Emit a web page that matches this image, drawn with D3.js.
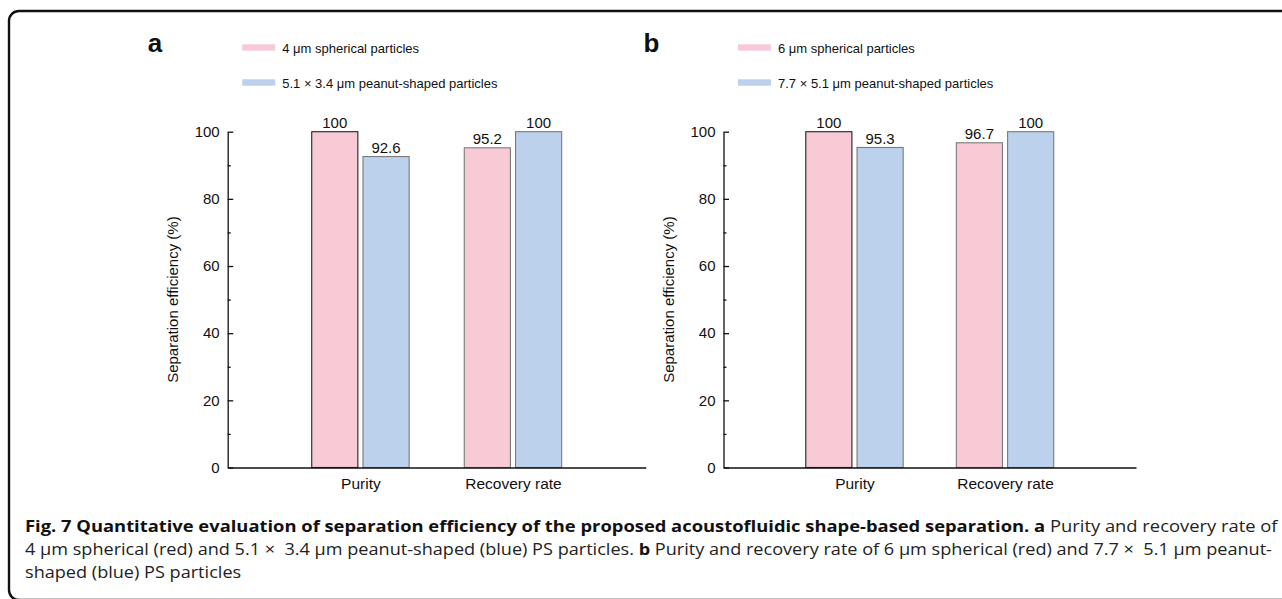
<!DOCTYPE html>
<html>
<head>
<meta charset="utf-8">
<script src="https://cdn.jsdelivr.net/npm/d3@7"></script>
<style>
  body { margin: 0; background: #fff; }
  svg { display: block; }
</style>
</head>
<body>
<svg id="chart" width="1282" height="599"></svg>
<script>
// data
const categories = ["Purity", "Recovery rate"];
const seriesKeys = ["spherical", "peanut"];
const legendA = ["4 μm spherical particles", "5.1 × 3.4 μm peanut-shaped particles"];
const legendB = ["6 μm spherical particles", "7.7 × 5.1 μm peanut-shaped particles"];
// one row per category: [spherical, peanut]
const valuesA = [[100, 92.6], [95.2, 100]];
const valuesB = [[100, 95.3], [96.7, 100]];
const yTicks = [0, 20, 40, 60, 80, 100];
const yMinorTicks = [10, 30, 50, 70, 90];
const yTitle = "Separation efficiency (%)";
const colors = ["#f7cad6", "#bcd1ec"];

const captionLines = [
  [["Fig. 7 Quantitative evaluation of separation efficiency of the proposed acoustofluidic shape-based separation. a", true],
   [" Purity and recovery rate of", false]],
  [["4 μm spherical (red) and 5.1 ×  3.4 μm peanut-shaped (blue) PS particles. ", false],
   ["b", true],
   [" Purity and recovery rate of 6 μm spherical (red) and 7.7 ×  5.1 μm peanut-", false]],
  [["shaped (blue) PS particles", false]]
];

const svg = d3.select("#chart");
const font = "'Liberation Sans', Arial, sans-serif";

// frame round the figure
svg.append("rect")
  .attr("x", 9).attr("y", 11)
  .attr("width", 1300).attr("height", 589)
  .attr("rx", 10)
  .attr("fill", "none")
  .attr("stroke", "#111")
  .attr("stroke-width", 2.4);

const panels = [
  { letter: "a", legend: legendA, values: valuesA, left: 227.7, right: 645.7 },
  { letter: "b", legend: legendB, values: valuesB, left: 723.5, right: 1136 }
];

const yTop = 131.7, yBottom = 467.5;

panels.forEach(p => {
  const g = svg.append("g").style("font-family", font);

  const y = d3.scaleLinear().domain([0, 100]).range([yBottom, yTop]);
  const x = d3.scalePoint().domain(categories).range([p.left, p.right]).padding(0.87);
  const inner = d3.scaleBand().domain(seriesKeys).range([-48.7, 48.7]).paddingInner(0.1);

  // bars
  const rows = [];
  categories.forEach((c, i) => {
    seriesKeys.forEach((s, j) => rows.push({ cat: c, key: s, j: j, first: i === 0 && j === 0, v: p.values[i][j] }));
  });

  g.selectAll(".bar")
    .data(rows)
    .join("rect")
    .attr("class", "bar")
    .attr("x", d => x(d.cat) + inner(d.key))
    .attr("y", d => y(d.v))
    .attr("width", inner.bandwidth())
    .attr("height", d => y(0) - y(d.v))
    .attr("fill", d => colors[d.j])
    .attr("stroke", d => d.first ? "#222" : "#7a7a7a")
    .attr("stroke-width", 1.1);

  // value labels
  g.selectAll(".val")
    .data(rows)
    .join("text")
    .attr("class", "val")
    .attr("x", d => x(d.cat) + inner(d.key) + inner.bandwidth() / 2)
    .attr("y", d => y(d.v) - 3.5)
    .attr("text-anchor", "middle")
    .attr("font-size", 15)
    .attr("fill", "#111")
    .text(d => d3.format("~g")(d.v));

  // y axis, ticks pointing inward
  const yAxis = g.append("g")
    .attr("transform", `translate(${p.left},0)`)
    .call(d3.axisLeft(y).tickValues(yTicks).tickSizeInner(-5.5).tickSizeOuter(0).tickPadding(8));
  yAxis.selectAll("text").attr("font-size", 15).attr("font-family", font).attr("fill", "#111");

  const yMinor = g.append("g")
    .attr("transform", `translate(${p.left},0)`)
    .call(d3.axisLeft(y).tickValues(yMinorTicks).tickSizeInner(-3).tickSizeOuter(0).tickFormat(""));
  yMinor.select(".domain").remove();

  // x axis
  const xAxis = g.append("g")
    .attr("transform", `translate(0,${yBottom})`)
    .call(d3.axisBottom(x).tickSize(0).tickPadding(10));
  xAxis.selectAll("text").attr("font-size", 15.5).attr("font-family", font).attr("fill", "#111");

  [yAxis, yMinor, xAxis].forEach(a => a.selectAll("path, line").attr("stroke", "#111").attr("stroke-width", 1.3));

  // y title
  g.append("text")
    .attr("transform", `translate(${p.left - 50},${(yTop + yBottom) / 2}) rotate(-90)`)
    .attr("text-anchor", "middle")
    .attr("font-size", 15)
    .attr("fill", "#111")
    .text(yTitle);

  // panel letter
  g.append("text")
    .attr("x", p.left - 80)
    .attr("y", 51.5)
    .attr("font-size", 26)
    .attr("font-weight", "bold")
    .attr("fill", "#111")
    .text(p.letter);

  // legend
  const leg = g.selectAll(".leg")
    .data(p.legend)
    .join("g")
    .attr("class", "leg")
    .attr("transform", (d, i) => `translate(${p.left + 14.5},${47.5 + i * 35})`);
  leg.append("rect")
    .attr("x", 0).attr("y", -3.2)
    .attr("width", 33).attr("height", 6.4)
    .attr("fill", (d, i) => colors[i]);
  leg.append("text")
    .attr("x", 40)
    .attr("y", 5)
    .attr("font-size", 13)
    .attr("fill", "#111")
    .text(d => d);
});

// caption, squeezed horizontally to the width it takes in the figure
const capBase = [532, 555, 578];
const capWidth = [1253, 1248, null];
let lastScale = 1;
captionLines.forEach((line, i) => {
  const t = svg.append("text")
    .attr("font-family", "'Open Sans', 'Noto Sans', sans-serif")
    .attr("font-size", 15.5)
    .style("white-space", "pre")
    .attr("x", 0).attr("y", 0);
  line.forEach(([s, b]) => {
    t.append("tspan")
      .attr("font-weight", b ? "bold" : "normal")
      .attr("fill", b ? "#111" : "#222")
      .text(s);
  });
  const w = t.node().getComputedTextLength();
  const sx = capWidth[i] ? capWidth[i] / w : lastScale;
  lastScale = sx;
  t.attr("transform", `translate(25,${capBase[i]}) scale(${sx},1)`);
});
</script>
</body>
</html>
